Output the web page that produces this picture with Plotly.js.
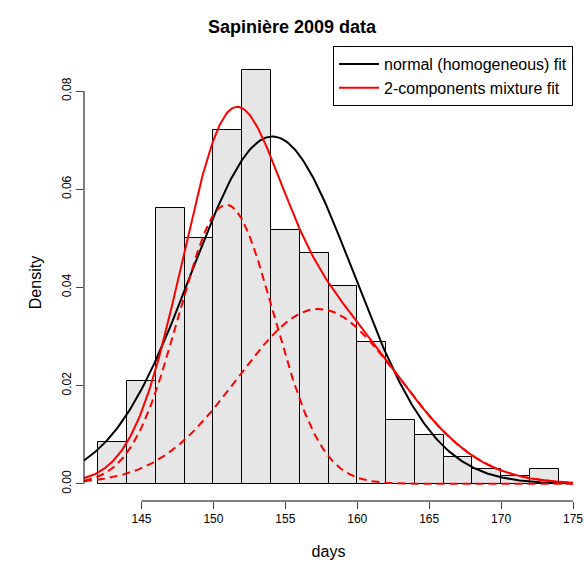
<!DOCTYPE html>
<html>
<head>
<meta charset="utf-8">
<script src="https://cdn.plot.ly/plotly-3.0.1.min.js"></script>
<style>body{margin:0;background:#fff}</style>
</head>
<body>
<div id="chart" style="width:584px;height:570px"></div>
<script>
// histogram bins (centres) and densities
const binCenters = [143, 145, 147, 149, 151, 153, 155, 157, 159, 161, 163, 165, 167, 169, 171, 173];
const densities = [0.0086, 0.0210, 0.0562, 0.0500, 0.0720, 0.0842, 0.0517, 0.0470, 0.0403, 0.0289, 0.0129, 0.0100, 0.0055, 0.0031, 0.0016, 0.0031];

// fitted parameters
const normalFit = {mean: 154.1, sd: 5.64};
const mixMeans = [150.9, 157.3];
const mixSds = [3.3, 5.6];
const mixWeights = [0.47, 0.5];

function dnorm(x, m, s) {
  return Math.exp(-0.5 * ((x - m) / s) ** 2) / (s * Math.sqrt(2 * Math.PI));
}

const xs = [];
for (let x = 141; x <= 175.001; x += 0.1) xs.push(x);

const normY = xs.map((x) => dnorm(x, normalFit.mean, normalFit.sd));
const comp1 = xs.map((x) => mixWeights[0] * dnorm(x, mixMeans[0], mixSds[0]));
const comp2 = xs.map((x) => mixWeights[1] * dnorm(x, mixMeans[1], mixSds[1]));
const mixY = xs.map((x, i) => comp1[i] + comp2[i]);

const data = [
  {type: 'bar', x: binCenters, y: densities, width: 2, showlegend: false,
   marker: {color: '#e6e6e6', line: {color: '#000', width: 1}}, hoverinfo: 'skip'},
  {x: xs, y: normY, mode: 'lines', name: 'normal (homogeneous) fit', line: {color: '#000', width: 2}},
  {x: xs, y: mixY, mode: 'lines', name: '2-components mixture fit', line: {color: '#ff0000', width: 2}},
  {x: xs, y: comp1, mode: 'lines', showlegend: false, line: {color: '#ff0000', width: 2, dash: '8px,5px'}},
  {x: xs, y: comp2, mode: 'lines', showlegend: false, line: {color: '#ff0000', width: 2, dash: '8px,5px'}}
];

const layout = {
  width: 584, height: 570,
  margin: {l: 84, r: 11, t: 64, b: 69},
  paper_bgcolor: '#fff', plot_bgcolor: '#fff',
  font: {family: 'Liberation Sans, Arial, sans-serif', size: 13, color: '#000'},
  title: {text: '<b>Sapinière 2009 data</b>', x: 0.5, xanchor: 'center', y: 0.965, font: {size: 18}},
  bargap: 0,
  showlegend: true,
  legend: {x: 1.0, xanchor: 'right', y: 1.041, yanchor: 'top', bordercolor: '#000', borderwidth: 1,
           bgcolor: '#fff', font: {size: 16}, tracegroupgap: 0, itemwidth: 40},
  xaxis: {range: [141, 175], tickvals: [145, 150, 155, 160, 165, 170, 175], ticks: 'outside', ticklen: 7,
          showgrid: false, zeroline: false, showline: false, tickfont: {size: 12},
          title: {text: 'days', font: {size: 16}, standoff: 20}},
  yaxis: {range: [-0.0035, 0.0855], tickvals: [0, 0.02, 0.04, 0.06, 0.08], ticktext: ['0.00', '0.02', '0.04', '0.06', '0.08'],
          ticks: 'outside', ticklen: 7, tickangle: -90, showgrid: false, zeroline: false, showline: false,
          tickfont: {size: 12}, title: {text: 'Density', font: {size: 16}, standoff: 14}},
  shapes: [
    {type: 'line', xref: 'x', yref: 'paper', x0: 145, x1: 175, y0: 0, y1: 0, line: {color: '#000', width: 1}},
    {type: 'line', xref: 'paper', yref: 'y', x0: 0, x1: 0, y0: 0, y1: 0.08, line: {color: '#000', width: 1}}
  ]
};

Plotly.newPlot('chart', data, layout, {displayModeBar: false});
</script>
</body>
</html>
